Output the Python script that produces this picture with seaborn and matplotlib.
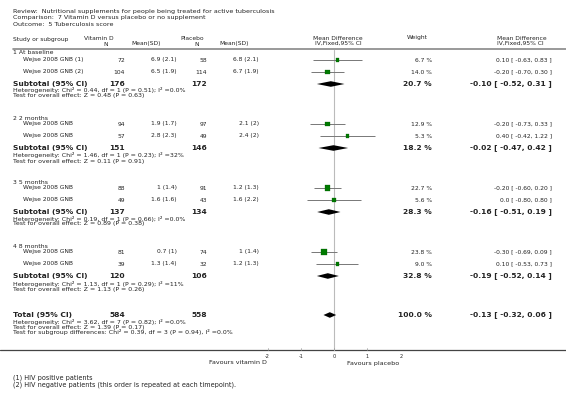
import matplotlib
matplotlib.use("Agg")
import matplotlib.pyplot as plt
import seaborn as sns

# study level data
studies = ["Wejse 2008 GNB (1)", "Wejse 2008 GNB (2)", "Wejse 2008 GNB", "Wejse 2008 GNB",
           "Wejse 2008 GNB", "Wejse 2008 GNB", "Wejse 2008 GNB", "Wejse 2008 GNB"]
vit_n = [72, 104, 94, 57, 88, 49, 81, 39]
vit_mean = [6.9, 6.5, 1.9, 2.8, 1, 1.6, 0.7, 1.3]
vit_sd = [2.1, 1.9, 1.7, 2.3, 1.4, 1.6, 1, 1.4]
pla_n = [58, 114, 97, 49, 91, 43, 74, 32]
pla_mean = [6.8, 6.7, 2.1, 2.4, 1.2, 1.6, 1, 1.2]
pla_sd = [2.1, 1.9, 2, 2, 1.3, 2.2, 1.4, 1.3]
md = [0.10, -0.20, -0.20, 0.40, -0.20, 0.0, -0.30, 0.10]
md_lo = [-0.63, -0.70, -0.73, -0.42, -0.60, -0.80, -0.69, -0.53]
md_hi = [0.83, 0.30, 0.33, 1.22, 0.20, 0.80, 0.09, 0.73]
weight = [6.7, 14.0, 12.9, 5.3, 22.7, 5.6, 23.8, 9.0]

# subgroups
groups = ["1 At baseline", "2 2 months", "3 5 months", "4 8 months"]
sub_vit_n = [176, 151, 137, 120]
sub_pla_n = [172, 146, 134, 106]
sub_md = [-0.10, -0.02, -0.16, -0.19]
sub_lo = [-0.52, -0.47, -0.51, -0.52]
sub_hi = [0.31, 0.42, 0.19, 0.14]
sub_w = [20.7, 18.2, 28.3, 32.8]
het_chi2 = [0.44, 1.46, 0.19, 1.13]
het_df = [1, 1, 1, 1]
het_p = [0.51, 0.23, 0.66, 0.29]
het_i2 = ["0.0%", "32%", "0.0%", "11%"]
z_val = [0.48, 0.11, 0.89, 1.13]
z_p = [0.63, 0.91, 0.38, 0.26]

# overall
tot_n = [584, 558]
tot_md = [-0.13, -0.32, 0.06]
tot_het = [3.62, 7, 0.82, "0.0%"]
tot_z = [1.39, 0.17]
sub_diff = [0.39, 3, 0.94, "0.0%"]

ticks = [-2, -1, 0, 1, 2]

# layout (pixel rows)
study_y = [60, 72, 124, 136, 188, 200, 252, 264]
group_y = [53, 118, 182, 246]
subtot_y = [84, 148, 212, 276]
het_y = [90, 155, 219, 284]
test_y = [95, 161, 224, 289]
total_y = 315

sns.set_style("white")
plt.rcParams["font.family"] = ["DejaVu Sans"]
TXT = "#222222"
SMALL = 4.3   # study rows
NOTE = 4.5    # heterogeneity / test lines
BOLD = 5.4    # subtotal rows

fig = plt.figure(figsize=(5.66, 3.96), dpi=100)
bg = fig.add_axes([0, 0, 1, 1])
bg.set_xlim(0, 566)
bg.set_ylim(396, 0)
bg.axis("off")

def t(x, y, s, size=4.3, ha="left", bold=False):
    bg.text(x, y, s, fontsize=size, ha=ha, va="center", color=TXT,
            fontweight="bold" if bold else "normal")

def fmt(v):
    return "0.0" if v == 0 else f"{v:.2f}"

# title block
t(13, 11, "Review:  Nutritional supplements for people being treated for active tuberculosis", size=4.55)
t(13, 18, "Comparison:  7 Vitamin D versus placebo or no supplement", size=4.55)
t(13, 25, "Outcome:  5 Tuberculosis score", size=4.55)

# headers
t(13, 39, "Study or subgroup")
t(99, 38, "Vitamin D", ha="center")
t(106, 44, "N", ha="center")
t(146, 44, "Mean(SD)", ha="center")
t(192, 39, "Placebo", ha="center")
t(197, 44, "N", ha="center")
t(234, 44, "Mean(SD)", ha="center")
t(338, 38, "Mean Difference", ha="center", size=4.3)
t(338, 43, "IV,Fixed,95% CI", ha="center", size=4.3)
t(417, 38, "Weight", ha="center")
t(522, 38, "Mean Difference", ha="center", size=4.3)
t(520, 43, "IV,Fixed,95% CI", ha="center", size=4.3)
bg.plot([13, 566], [49, 49], color="#888888", lw=1.2)

# study rows
for i, name in enumerate(studies):
    y = study_y[i]
    t(23, y, name, size=SMALL)
    t(125, y, str(vit_n[i]), size=SMALL, ha="right")
    t(177, y, f"{vit_mean[i]:g} ({vit_sd[i]:g})", size=SMALL, ha="right")
    t(207, y, str(pla_n[i]), size=SMALL, ha="right")
    t(259, y, f"{pla_mean[i]:g} ({pla_sd[i]:g})", size=SMALL, ha="right")
    t(432, y, f"{weight[i]:.1f} %", size=SMALL, ha="right")
    t(552, y, f"{fmt(md[i])} [ {fmt(md_lo[i])}, {fmt(md_hi[i])} ]", size=SMALL, ha="right")

# subgroup rows
for g, name in enumerate(groups):
    t(13, group_y[g], name, size=4.4)
    y = subtot_y[g]
    t(13, y, "Subtotal (95% CI)", size=BOLD, bold=True)
    t(125, y, str(sub_vit_n[g]), size=BOLD, ha="right", bold=True)
    t(207, y, str(sub_pla_n[g]), size=BOLD, ha="right", bold=True)
    t(432, y, f"{sub_w[g]:.1f} %", size=BOLD, ha="right", bold=True)
    t(552, y, f"{fmt(sub_md[g])} [ {fmt(sub_lo[g])}, {fmt(sub_hi[g])} ]",
      size=BOLD, ha="right", bold=True)
    t(13, het_y[g], f"Heterogeneity: Chi\u00b2 = {het_chi2[g]:.2f}, df = {het_df[g]} "
                    f"(P = {het_p[g]:.2f}); I\u00b2 ={het_i2[g]}", size=NOTE)
    t(13, test_y[g], f"Test for overall effect: Z = {z_val[g]:.2f} (P = {z_p[g]:.2f})", size=NOTE)

# total
t(13, total_y, "Total (95% CI)", size=BOLD, bold=True)
t(125, total_y, str(tot_n[0]), size=BOLD, ha="right", bold=True)
t(207, total_y, str(tot_n[1]), size=BOLD, ha="right", bold=True)
t(432, total_y, "100.0 %", size=BOLD, ha="right", bold=True)
t(552, total_y, f"{fmt(tot_md[0])} [ {fmt(tot_md[1])}, {fmt(tot_md[2])} ]",
  size=BOLD, ha="right", bold=True)
t(13, 322, f"Heterogeneity: Chi\u00b2 = {tot_het[0]:.2f}, df = {tot_het[1]} "
           f"(P = {tot_het[2]:.2f}); I\u00b2 ={tot_het[3]}", size=NOTE)
t(13, 327, f"Test for overall effect: Z = {tot_z[0]:.2f} (P = {tot_z[1]:.2f})", size=NOTE)
t(13, 332, f"Test for subgroup differences: Chi\u00b2 = {sub_diff[0]:.2f}, df = {sub_diff[1]} "
           f"(P = {sub_diff[2]:.2f}), I\u00b2 ={sub_diff[3]}", size=NOTE)

# axis line + favours labels + footnotes
bg.plot([0, 566], [350, 350], color="#444444", lw=0.9)
t(267, 363, "Favours vitamin D", ha="right", size=4.6)
t(347, 363, "Favours placebo", size=4.6)
t(13, 378, "(1) HIV positive patients", size=4.7)
t(13, 385, "(2) HIV negative patients (this order is repeated at each timepoint).", size=4.7)

# forest axes: x from -2..2 maps to pixel 267.5..400.8
fa = fig.add_axes([267.5 / 566, 0, 133.3 / 566, 1])
fa.set_xlim(-2, 2)
fa.set_ylim(396, 0)
fa.patch.set_alpha(0)
for s in fa.spines.values():
    s.set_visible(False)
fa.set_yticks([])
fa.set_xticks([])

fa.plot([0, 0], [50, 350], color="#bbbbbb", lw=0.8, zorder=1)
fa.hlines(study_y, md_lo, md_hi, color="#777777", lw=0.7, zorder=2)
sns.scatterplot(x=md, y=study_y, size=weight, sizes=(6, 16), marker="s",
                color="#007a00", edgecolor="#005500", linewidth=0.2,
                legend=False, ax=fa, zorder=3)

def diamond(m, lo, hi, y, h=2.8):
    fa.fill([lo, m, hi, m], [y, y - h, y, y + h], color="black", lw=0, zorder=3)

for g in range(len(groups)):
    diamond(sub_md[g], sub_lo[g], sub_hi[g], subtot_y[g])
diamond(tot_md[0], tot_md[1], tot_md[2], total_y)

# ticks drawn in forest coords
for v in ticks:
    fa.plot([v, v], [348, 350], color="#999999", lw=0.5)
    fa.text(v, 356, str(v), fontsize=3.6, ha="center", va="center", color=TXT)

fig.savefig("out.png", dpi=100)
